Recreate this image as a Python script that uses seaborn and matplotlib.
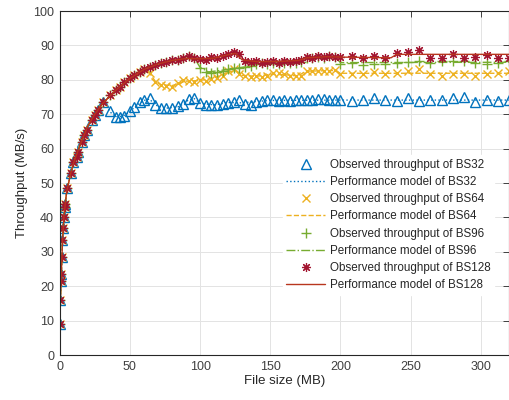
import numpy as np
import pandas as pd
import seaborn as sns
import matplotlib
matplotlib.use("Agg")
import matplotlib.pyplot as plt

# ---------------- data ----------------
file_size = [0.2, 0.5, 1.0, 1.3, 1.6, 2.0, 2.5, 3.0, 3.5, 4.0, 5.4, 7.8, 9.7, 12, 13.2,
             15.6, 17.5, 19.2, 22.7, 25, 27.5, 31, 35.7, 40, 42.8, 46, 50, 53, 57, 60,
             64, 68, 72, 76, 80, 84, 88, 92, 96,
             100, 104, 108, 112, 116, 120, 124, 128, 132, 136, 140, 144, 148, 152, 156,
             160, 164, 168, 172, 176, 180, 184, 188, 192, 196,
             200, 208, 216, 224, 232, 240, 248, 256, 264, 272, 280, 288, 296, 304, 312, 320]

# common rising part (identical for all block sizes), file sizes 0.2 .. 96
shared_rise = [9, 16, 21.5, 23.5, 28.5, 33.5, 37, 40, 43, 44, 48.5, 53, 56, 57.6, 59,
               62, 64, 65.5, 68.3, 69.8, 71.2, 73.6, 75.6, 77, 78, 79.3, 80.4, 81.3, 82.4, 83,
               83.8, 84.3, 84.8, 85.3, 85.8, 85.7, 86.2, 86.8, 86.3]

bs32_tail = [70.8, 69.3, 69.2, 69.5, 70.8, 72.2, 73.6, 74.0, 74.6, 72.7, 71.8, 71.7, 71.7,
             72.3, 73.1, 74.3, 74.6,
             73.2, 72.8, 72.6, 72.8, 73.0, 73.4, 73.6, 74.2, 73.0, 72.6, 73.6, 73.8, 74.2,
             74.0, 73.8, 74.0, 73.8, 74.2, 74.0, 74.2, 74.2, 74.4, 74.5, 74.2, 74.0,
             74.0, 73.8, 74.2, 74.6, 74.2, 73.8, 74.6, 73.8, 74.2, 74.2, 74.6, 75.1, 73.6,
             74.2, 73.8, 74.2]
bs64_tail = [81.9, 79.5, 78.5, 78.2, 78.0, 79.0, 80.0, 79.6, 79.4,
             79.8, 79.6, 80.2, 80.4, 81.0, 82.5, 83.0, 81.8, 81.2, 80.8, 81.0, 80.8, 81.0,
             82.1, 82.0, 81.6, 81.0, 81.2, 81.0, 82.6, 82.6, 82.6, 82.7, 82.6, 82.8,
             81.6, 81.8, 81.6, 82.4, 81.6, 82.0, 82.6, 83.1, 81.6, 81.2, 81.6, 81.6, 81.2,
             81.6, 82.0, 82.6]
bs96_tail = [83.5, 82.3, 82.1, 82.4, 82.6, 83.0, 83.3, 83.5, 83.8, 84.0, 84.5, 84.8, 84.6,
             85.0, 84.7, 85.0, 84.8, 85.0, 85.3, 86.4, 86.4, 86.6, 86.4, 86.8, 86.5,
             84.5, 85.0, 84.3, 84.5, 84.5, 85.0, 85.3, 85.6, 85.0, 85.4, 85.6, 85.4, 85.0,
             84.5, 85.0, 85.4]
bs128_tail = [86.0, 85.8, 86.5, 86.2, 86.8, 87.5, 88.0, 87.5, 85.6, 85.2, 85.5, 85.0, 85.3,
              85.5, 85.0, 85.6, 85.2, 85.4, 85.8, 86.6, 86.4, 86.8, 86.5, 86.9, 86.6,
              86.6, 86.9, 86.4, 86.9, 86.4, 87.9, 88.2, 88.8, 86.3, 86.3, 87.4, 86.4, 86.6,
              87.2, 86.4, 86.4]

obs_bs32 = shared_rise[:22] + bs32_tail
obs_bs64 = shared_rise[:30] + bs64_tail
obs_bs96 = shared_rise[:39] + bs96_tail
obs_bs128 = shared_rise[:39] + bs128_tail

# performance models
model_rise_x = [0.2, 0.5, 1, 2, 3, 4, 5, 8, 10, 15, 20, 25, 30]
model_rise_y = [9, 16, 21.5, 33, 40, 44, 47.5, 53, 56, 61.5, 66.5, 70, 72.8]

m32_x = [33, 36, 40, 45, 50, 55, 60, 64, 68, 75, 85, 92, 96, 100, 110, 120, 130, 140, 150, 200, 320]
m32_y = [73.4, 70.6, 69.3, 69.4, 70.8, 72.6, 74, 74.4, 72.7, 71.7, 72.2, 74.2, 74.5, 73.2,
         72.7, 73.4, 73.3, 73.7, 74.0, 74.1, 74.1]
m64_x = [35, 40, 50, 60, 64, 68, 72, 80, 90, 100, 110, 120, 126, 130, 140, 150, 160, 170, 175,
         196, 200, 320]
m64_y = [75, 77, 80.4, 83, 82, 79.6, 78.6, 78.3, 79.6, 79.8, 80.5, 82.3, 82.6, 81.3, 81.0,
         81.6, 81.5, 81.1, 82.5, 82.7, 81.9, 81.9]
m96_x = [35, 40, 50, 60, 70, 80, 90, 96, 100, 106, 120, 130, 140, 150, 170, 176, 196, 200, 320]
m96_y = [75, 77, 80.4, 83, 84.6, 85.6, 86.2, 86.3, 83.6, 82.3, 83.0, 83.6, 84.5, 84.9, 85.1,
         86.3, 86.6, 85.0, 85.1]
m128_x = [35, 40, 50, 60, 70, 80, 90, 100, 110, 120, 125, 130, 140, 150, 160, 170, 176, 190,
          200, 236, 240, 320]
m128_y = [75, 77, 80.4, 83, 84.6, 85.6, 86.2, 86.1, 86.3, 87.3, 87.7, 85.8, 85.3, 85.3, 85.4,
          85.6, 86.4, 86.7, 86.6, 86.4, 87.4, 87.4]

labels = ["BS32", "BS64", "BS96", "BS128"]
colors = {"BS32": "#0072BD", "BS64": "#EDB120", "BS96": "#77AC30", "BS128": "#A2142F"}
line_colors = {"BS32": "#0072BD", "BS64": "#EDB120", "BS96": "#77AC30", "BS128": "#B8361E"}

# ---------------- style ----------------
sns.set_style("whitegrid")
plt.rcParams["font.family"] = ["Liberation Sans", "DejaVu Sans"]

fig = plt.figure(figsize=(5.1, 4.0), dpi=100)
ax = fig.add_axes([0.117, 0.1125, 0.881, 0.86])

obs = {"BS32": obs_bs32, "BS64": obs_bs64, "BS96": obs_bs96, "BS128": obs_bs128}
models = {
    "BS32": (model_rise_x + m32_x, model_rise_y + m32_y),
    "BS64": (model_rise_x + m64_x, model_rise_y + m64_y),
    "BS96": (model_rise_x + m96_x, model_rise_y + m96_y),
    "BS128": (model_rise_x + m128_x, model_rise_y + m128_y),
}
mark = {"BS32": dict(marker="^", markersize=7, markerfacecolor="none", markeredgewidth=1.0),
        "BS64": dict(marker="x", markersize=5.5, markeredgewidth=1.0),
        "BS96": dict(marker="+", markersize=7, markeredgewidth=1.0),
        "BS128": dict(marker=(8, 2, 0), markersize=6.5, markeredgewidth=0.85)}
lstyle = {"BS32": ":", "BS64": "--", "BS96": "-.", "BS128": "-"}

for bs in labels:
    df_o = pd.DataFrame({"x": file_size, "y": obs[bs]})
    sns.lineplot(data=df_o, x="x", y="y", ax=ax, linestyle="", color=colors[bs],
                 markeredgecolor=colors[bs], label=f"Observed throughput of {bs}",
                 sort=False, estimator=None, **mark[bs])
    mx, my = models[bs]
    df_m = pd.DataFrame({"x": mx, "y": my})
    sns.lineplot(data=df_m, x="x", y="y", ax=ax, linestyle=lstyle[bs], color=line_colors[bs],
                 linewidth=1.0, label=f"Performance model of {bs}", sort=False, estimator=None)

ax.set_xlim(0, 320)
ax.set_ylim(0, 100)
ax.set_xticks([0, 50, 100, 150, 200, 250, 300])
ax.set_yticks(list(range(0, 101, 10)))
ax.set_xlabel("File size (MB)", fontsize=9.5, color="#262626", labelpad=2)
ax.set_ylabel("Throughput (MB/s)", fontsize=9.5, color="#262626", labelpad=4)
ax.tick_params(direction="in", length=4, width=0.6, top=True, right=True,
               labelsize=9, colors="#262626", labelcolor="#404040", pad=4)
ax.grid(True, color="#e3e3e3", linewidth=0.7)
for s in ax.spines.values():
    s.set_visible(True)
    s.set_color("#262626")
    s.set_linewidth(0.8)

leg = ax.legend(loc="upper left", bbox_to_anchor=(0.484, 0.598), fontsize=8.4,
                frameon=True, framealpha=1, facecolor="white", edgecolor="white",
                handlelength=3.3, handletextpad=0.4, labelspacing=0.45, borderpad=0.3,
                fancybox=False)
for t in leg.get_texts():
    t.set_color("#262626")

fig.savefig("out.png", dpi=100)
